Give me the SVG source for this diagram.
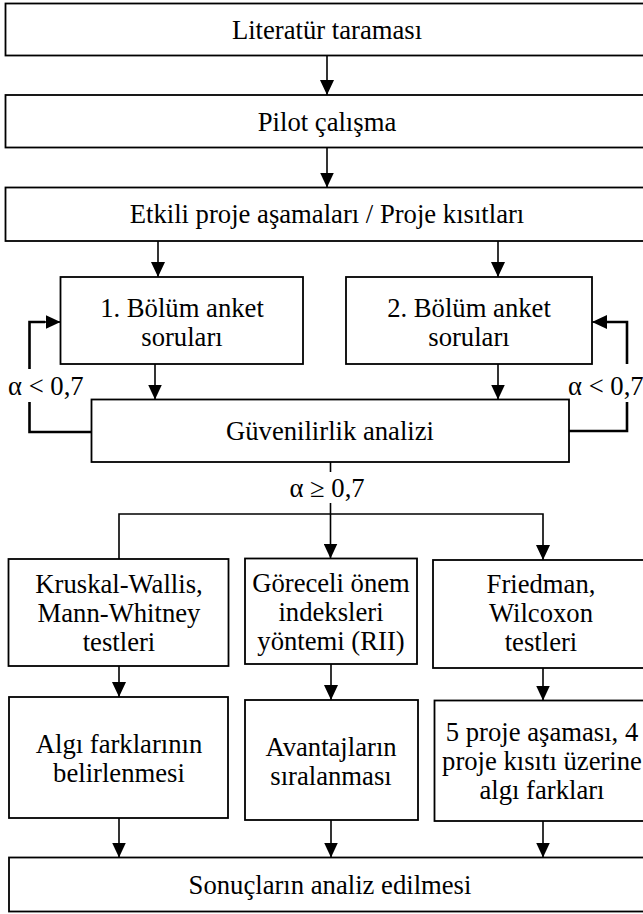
<svg xmlns="http://www.w3.org/2000/svg" width="643" height="914" viewBox="0 0 643 914">
<style>
.box{fill:#fff;stroke:#000;stroke-width:1.8}
.t{font-family:"Liberation Serif","Times New Roman",serif;font-size:26.67px;fill:#000;text-anchor:middle}
.lb{font-family:"Liberation Serif","Times New Roman",serif;font-size:26.67px;fill:#000}
.c{fill:none;stroke:#000;stroke-width:1.6}
.fb{fill:none;stroke:#000;stroke-width:2.6}
</style>
<defs>
<marker id="ah" viewBox="0 0 15 14" refX="15" refY="7" markerWidth="15" markerHeight="14" orient="auto" markerUnits="userSpaceOnUse">
<path d="M0,0 L15,7 L0,14 z" fill="#000"/>
</marker>
</defs>
<rect width="643" height="914" fill="#fff"/>
<g id="connectors">
<line class="c" x1="327" y1="56" x2="327" y2="95" marker-end="url(#ah)"/>
<line class="c" x1="327" y1="147.5" x2="327" y2="187.5" marker-end="url(#ah)"/>
<line class="c" x1="158" y1="241" x2="158" y2="277" marker-end="url(#ah)"/>
<line class="c" x1="498" y1="241" x2="498" y2="277" marker-end="url(#ah)"/>
<line class="c" x1="155" y1="364" x2="155" y2="399.5" marker-end="url(#ah)"/>
<line class="c" x1="498" y1="364" x2="498" y2="399.5" marker-end="url(#ah)"/>
<polyline class="fb" points="91.5,432 29.5,432 29.5,402"/>
<polyline class="fb" points="29.5,369 29.5,322 45,322"/>
<line class="c" x1="44" y1="322" x2="60.5" y2="322" marker-end="url(#ah)"/>
<polyline class="fb" points="569,431 627,431 627,402"/>
<polyline class="fb" points="627,364 627,322 607,322"/>
<line class="c" x1="608" y1="322" x2="592" y2="322" marker-end="url(#ah)"/>
<line class="c" x1="330.5" y1="462" x2="330.5" y2="472"/>
<line class="c" x1="330.5" y1="503" x2="330.5" y2="558.5" marker-end="url(#ah)"/>
<polyline class="c" points="119,559 119,514 543,514 543,560" marker-end="url(#ah)"/>
<line class="c" x1="119" y1="666" x2="119" y2="697" marker-end="url(#ah)"/>
<line class="c" x1="331" y1="664" x2="331" y2="700" marker-end="url(#ah)"/>
<line class="c" x1="543" y1="668" x2="543" y2="700.5" marker-end="url(#ah)"/>
<line class="c" x1="119" y1="818" x2="119" y2="857.5" marker-end="url(#ah)"/>
<line class="c" x1="331" y1="820" x2="331" y2="857.5" marker-end="url(#ah)"/>
<line class="c" x1="543" y1="821" x2="543" y2="857.5" marker-end="url(#ah)"/>
<text class="lb" x="8" y="395">α &lt; 0,7</text>
<text class="lb" x="568" y="395">α &lt; 0,7</text>
<text class="t" x="327" y="497">α ≥ 0,7</text>
</g>
<g id="n1"><rect class="box" x="5.5" y="3.5" width="645" height="52"/><text class="t" x="327" y="39">Literatür taraması</text></g>
<g id="n2"><rect class="box" x="5.5" y="95" width="645" height="52.5"/><text class="t" x="327" y="131">Pilot çalışma</text></g>
<g id="n3"><rect class="box" x="5.5" y="187.5" width="645" height="53.5"/><text class="t" x="327" y="223">Etkili proje aşamaları / Proje kısıtları</text></g>
<g id="n4"><rect class="box" x="60.5" y="277" width="242.5" height="87"/><text class="t" x="182" y="317">1. Bölüm anket</text><text class="t" x="182" y="346">soruları</text></g>
<g id="n5"><rect class="box" x="346" y="277" width="246" height="87"/><text class="t" x="469" y="317">2. Bölüm anket</text><text class="t" x="469" y="346">soruları</text></g>
<g id="n6"><rect class="box" x="91.5" y="399.5" width="477.5" height="62.5"/><text class="t" x="330" y="440">Güvenilirlik analizi</text></g>
<g id="n7"><rect class="box" x="8.5" y="559" width="220" height="107"/><text class="t" x="119" y="593">Kruskal-Wallis,</text><text class="t" x="119" y="622">Mann-Whitney</text><text class="t" x="119" y="651">testleri</text></g>
<g id="n8"><rect class="box" x="245" y="558.5" width="172" height="105.5"/><text class="t" x="331" y="592">Göreceli önem</text><text class="t" x="331" y="620.5">indeksleri</text><text class="t" x="331" y="649.5">yöntemi (RII)</text></g>
<g id="n9"><rect class="box" x="433" y="560" width="217" height="108"/><text class="t" x="541" y="593">Friedman,</text><text class="t" x="541" y="622">Wilcoxon</text><text class="t" x="541" y="651">testleri</text></g>
<g id="n10"><rect class="box" x="9" y="697" width="219" height="121"/><text class="t" x="119" y="753">Algı farklarının</text><text class="t" x="119" y="782">belirlenmesi</text></g>
<g id="n11"><rect class="box" x="245" y="700" width="173" height="120"/><text class="t" x="331" y="756">Avantajların</text><text class="t" x="331" y="785">sıralanması</text></g>
<g id="n12"><rect class="box" x="434.5" y="700.5" width="216" height="120.5"/><text class="t" x="542" y="741">5 proje aşaması, 4</text><text class="t" x="542" y="770">proje kısıtı üzerine</text><text class="t" x="542" y="799">algı farkları</text></g>
<g id="n13"><rect class="box" x="9" y="857.5" width="642" height="54"/><text class="t" x="330" y="894">Sonuçların analiz edilmesi</text></g>
</svg>
